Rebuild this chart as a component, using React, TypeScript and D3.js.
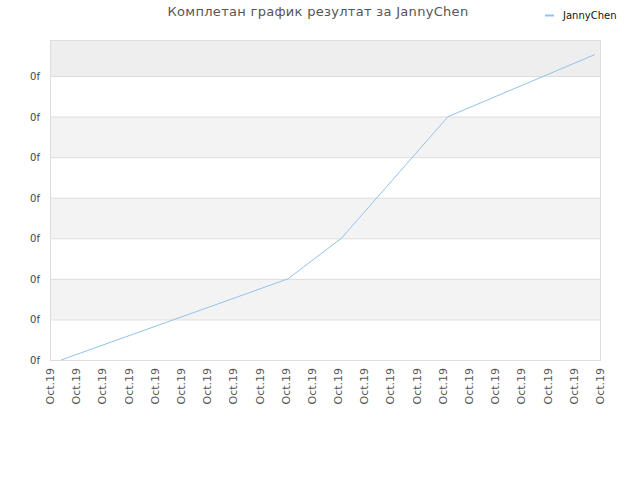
import { useEffect, useRef } from "react";
import * as d3 from "d3";

const title = "Комплетан график резултат за JannyChen";
const seriesName = "JannyChen";
const pointIndex = [0, 17, 21, 29, 40];
const pointValues = [0, 2, 3, 6, 7.53];
const yTicks = [0, 1, 2, 3, 4, 5, 6, 7];
const xLabels = Array.from({ length: 22 }, () => "Oct.19");

const App = () => {
    const svgRef = useRef<SVGSVGElement>(null);

    useEffect(() => {
        const svg = d3.select(svgRef.current);
        svg.selectAll("*").remove();

        const width = 640;
        const height = 480;
        const left = 50;
        const right = 600;
        const top = 40;
        const bottom = 360;
        const font = "DejaVu Sans, sans-serif";

        svg.attr("width", width).attr("height", height);

        const y = d3.scaleLinear().domain([0, 7]).range([bottom, 76]);
        const x = d3.scaleLinear().domain([0, 40]).range([61, 595]);
        const xl = d3
            .scalePoint<number>()
            .domain(xLabels.map((_, i) => i))
            .range([left, right]);

        const g = svg.append("g");

        // bands
        const bandEdges = [...yTicks, y.invert(top)];
        for (let i = 0; i < bandEdges.length - 1; i++) {
            if (i % 2 === 0) continue;
            g.append("rect")
                .attr("x", left)
                .attr("width", right - left)
                .attr("y", y(bandEdges[i + 1]))
                .attr("height", y(bandEdges[i]) - y(bandEdges[i + 1]))
                .attr("fill", i === bandEdges.length - 2 ? "#eeeeee" : "#f3f3f3");
        }

        g.selectAll(".grid")
            .data(yTicks)
            .enter()
            .append("line")
            .attr("x1", left)
            .attr("x2", right)
            .attr("y1", (d) => y(d) + 0.5)
            .attr("y2", (d) => y(d) + 0.5)
            .attr("stroke", "#dddddd");

        g.append("rect")
            .attr("x", left + 0.5)
            .attr("y", top + 0.5)
            .attr("width", right - left)
            .attr("height", bottom - top)
            .attr("fill", "none")
            .attr("stroke", "#dddddd");

        g.selectAll(".ytick")
            .data(yTicks)
            .enter()
            .append("text")
            .attr("x", 40)
            .attr("y", (d) => y(d) + 4)
            .attr("text-anchor", "end")
            .attr("font-family", font)
            .attr("font-size", 10)
            .attr("fill", "#444")
            .text("0f");

        g.selectAll(".xtick")
            .data(xLabels.map((t, i) => ({ t, i })))
            .enter()
            .append("text")
            .attr(
                "transform",
                (d) => `translate(${(xl(d.i) ?? 0) + 4},${bottom + 8}) rotate(-90)`
            )
            .attr("text-anchor", "end")
            .attr("font-family", font)
            .attr("font-size", 11)
            .attr("fill", "#555")
            .text((d) => d.t);

        const line = d3
            .line<number>()
            .x((_, i) => x(pointIndex[i]))
            .y((d) => y(d));

        g.append("path")
            .attr("d", line(pointValues))
            .attr("fill", "none")
            .attr("stroke", "#90c3f0")
            .attr("stroke-width", 1);

        svg.append("text")
            .attr("x", 318)
            .attr("y", 16)
            .attr("text-anchor", "middle")
            .attr("font-family", font)
            .attr("font-size", 13)
            .attr("fill", "#555")
            .attr("letter-spacing", 0.3)
            .text(title);

        svg.append("line")
            .attr("x1", 545)
            .attr("x2", 554)
            .attr("y1", 15.5)
            .attr("y2", 15.5)
            .attr("stroke", "#90c3f0")
            .attr("stroke-width", 2);

        svg.append("text")
            .attr("x", 563)
            .attr("y", 19)
            .attr("font-family", font)
            .attr("font-size", 10)
            .attr("fill", "#111")
            .text(seriesName);
    }, []);

    return <svg ref={svgRef} style={{ position: "absolute", left: 0, top: 0 }} />;
};

export default App;
